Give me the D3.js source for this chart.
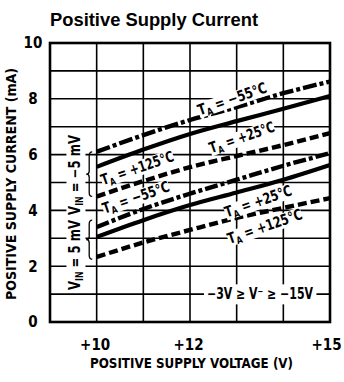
<!DOCTYPE html>
<html>
<head>
<meta charset="utf-8">
<script src="https://cdn.jsdelivr.net/npm/d3@7"></script>
<style>
  body { margin: 0; background: #fff; }
  svg { display: block; }
  text { font-family: "DejaVu Sans Condensed", "DejaVu Sans", sans-serif; font-stretch: condensed; font-weight: bold; fill: #000; }
</style>
</head>
<body>
<div id="chart"></div>
<script>
var canvasWidth = 344;
var canvasHeight = 382;

// supply voltage (V) where the curves are read
var supplyV = [10, 11, 12, 13, 14, 15];
// V_IN = -5 mV group (mA)
var curNeg55 = [6.1, 6.7, 7.24, 7.7, 8.2, 8.62];
var curNeg25 = [5.56, 6.18, 6.74, 7.2, 7.64, 8.1];
var curNeg125 = [4.5, 5.05, 5.55, 5.95, 6.34, 6.77];
// V_IN = 5 mV group (mA)
var curPos55 = [3.4, 4.05, 4.6, 5.1, 5.6, 6.05];
var curPos25 = [3.05, 3.65, 4.19, 4.64, 5.1, 5.63];
var curPos125 = [2.33, 2.85, 3.3, 3.73, 4.09, 4.44];

var yTicks = [0, 2, 4, 6, 8, 10];
var xTicks = [10, 12, 15];
var tempLabels = ["\u221255\u00B0C", "+25\u00B0C", "+125\u00B0C"];

var svg = d3.select("#chart")
    .append("svg")
    .attr("width", canvasWidth)
    .attr("height", canvasHeight);

var xScale = d3.scaleLinear().domain([9, 15]).range([50, 330]);
var yScale = d3.scaleLinear().domain([0, 10]).range([322, 43]);

/* title */
svg.append("text")
    .attr("x", 50)
    .attr("y", 26)
    .style("font-family", "'Liberation Sans', Arial, sans-serif")
    .style("font-stretch", "normal")
    .style("font-size", "18px")
    .attr("textLength", 208)
    .attr("lengthAdjust", "spacingAndGlyphs")
    .text("Positive Supply Current");

/* grid */
var grid = svg.append("g");
grid.selectAll(".vg")
    .data(d3.range(10, 15))
    .join("line")
    .attr("x1", d => xScale(d)).attr("x2", d => xScale(d))
    .attr("y1", yScale(0)).attr("y2", yScale(10))
    .attr("stroke", "#000").attr("stroke-width", 1.6);
grid.selectAll(".hg")
    .data(d3.range(1, 10))
    .join("line")
    .attr("x1", xScale(9)).attr("x2", xScale(15))
    .attr("y1", d => yScale(d)).attr("y2", d => yScale(d))
    .attr("stroke", "#000").attr("stroke-width", 1.6);

/* axes (labels only) */
var yAxis = svg.append("g")
    .attr("transform", "translate(40,0)")
    .call(d3.axisLeft(yScale).tickValues(yTicks).tickSize(0).tickPadding(0));
yAxis.select(".domain").remove();
yAxis.selectAll("text")
    .attr("x", -7)
    .attr("text-anchor", "middle")
    .style("font-family", "'DejaVu Sans Condensed', 'DejaVu Sans', sans-serif")
    .style("font-stretch", "condensed")
    .style("font-weight", "bold")
    .style("font-size", "15px");

var xAxis = svg.append("g")
    .attr("transform", "translate(0,336)")
    .call(d3.axisBottom(xScale).tickValues(xTicks).tickSize(0).tickFormat(d => "+" + d));
xAxis.select(".domain").remove();
xAxis.selectAll("text")
    .attr("dy", "0.71em")
    .attr("dx", d => d == 15 ? -4 : -2)
    .style("font-family", "'DejaVu Sans Condensed', 'DejaVu Sans', sans-serif")
    .style("font-stretch", "condensed")
    .style("font-weight", "bold")
    .style("font-size", "15px");

svg.append("text")
    .attr("x", 90)
    .attr("y", 368)
    .style("font-size", "14px")
    .attr("textLength", 203)
    .attr("lengthAdjust", "spacingAndGlyphs")
    .text("POSITIVE SUPPLY VOLTAGE (V)");

svg.append("text")
    .attr("transform", "translate(16,300) rotate(-90)")
    .style("font-size", "14px")
    .attr("textLength", 232)
    .attr("lengthAdjust", "spacingAndGlyphs")
    .text("POSITIVE SUPPLY CURRENT (mA)");

/* curves */
var series = [
    { vals: curNeg55, dash: "14,3,4,3" },
    { vals: curNeg25, dash: null },
    { vals: curNeg125, dash: "9,4" },
    { vals: curPos55, dash: "13,3,4,3" },
    { vals: curPos25, dash: null },
    { vals: curPos125, dash: "9,4" }
];

var line = d3.line()
    .x(d => xScale(d[0]))
    .y(d => yScale(d[1]))
    .curve(d3.curveMonotoneX);

svg.append("g")
    .selectAll("path")
    .data(series)
    .join("path")
    .attr("fill", "none")
    .attr("stroke", "#000")
    .attr("stroke-width", d => d.dash ? 4.4 : 4.2)
    .attr("stroke-dasharray", d => d.dash)
    .attr("d", d => line(supplyV.map((v, i) => [v, d.vals[i]])));

/* labels with white knockout */
function knockout(g, pad) {
    var bb = g.select("text").node().getBBox();
    g.insert("rect", "text")
        .attr("x", bb.x - pad).attr("y", bb.y - pad + 2)
        .attr("width", bb.width + 2 * pad).attr("height", bb.height + 2 * pad - 4)
        .attr("fill", "#fff");
}

// label centres in data units (V, mA)
var labelPos = [
    { v: 12.9, c: 8.0, t: 0, len: 72 },
    { v: 13.11, c: 6.62, t: 1, len: 68 },
    { v: 10.87, c: 5.52, t: 2, len: 76 },
    { v: 10.84, c: 4.47, t: 0, len: 70 },
    { v: 13.46, c: 4.33, t: 1, len: 70 },
    { v: 13.6, c: 3.43, t: 2, len: 78 }
];

labelPos.forEach(function(p) {
    var g = svg.append("g")
        .attr("transform", "translate(" + xScale(p.v) + "," + yScale(p.c) + ") rotate(-19)");
    var t = g.append("text")
        .attr("text-anchor", "middle")
        .attr("dy", "0.35em")
        .attr("textLength", p.len)
        .attr("lengthAdjust", "spacingAndGlyphs")
        .style("font-size", "15px");
    t.append("tspan").text("T");
    t.append("tspan").attr("dy", 3).style("font-size", "10px").text("A");
    t.append("tspan").attr("dy", -3).text(" = " + tempLabels[p.t]);
    knockout(g, 0);
});

// V_IN labels in left column
var vinLabels = [
    { c: 5.27, txt: " = \u22125 mV", len: 80 },
    { c: 2.4, txt: " = 5 mV", len: 70 }
];
vinLabels.forEach(function(p) {
    var g = svg.append("g")
        .attr("transform", "translate(" + (xScale(9.54)) + "," + yScale(p.c) + ") rotate(-90)");
    var t = g.append("text")
        .attr("text-anchor", "middle")
        .attr("dy", "0.35em")
        .attr("textLength", p.len)
        .attr("lengthAdjust", "spacingAndGlyphs")
        .style("font-size", "15px");
    t.append("tspan").text("V");
    t.append("tspan").attr("dy", 3).style("font-size", "10px").text("IN");
    t.append("tspan").attr("dy", -3).text(p.txt);
    knockout(g, 2);
});

// braces grouping each set of curves
var braces = [[6.1, 4.5], [3.65, 2.25]];
svg.append("g")
    .selectAll("path")
    .data(braces)
    .join("path")
    .attr("fill", "none")
    .attr("stroke", "#000")
    .attr("stroke-width", 1.3)
    .attr("d", function(d) {
        var x0 = xScale(9.84), y0 = yScale(d[0]), y1 = yScale(d[1]), ym = (y0 + y1) / 2;
        return "M" + (x0 + 3) + "," + y0 + "Q" + x0 + "," + y0 + " " + x0 + "," + (y0 + 4) +
            "L" + x0 + "," + (ym - 3) + "Q" + x0 + "," + ym + " " + (x0 - 3) + "," + ym +
            "Q" + x0 + "," + ym + " " + x0 + "," + (ym + 3) +
            "L" + x0 + "," + (y1 - 4) + "Q" + x0 + "," + y1 + " " + (x0 + 3) + "," + y1;
    });

// supply range note
var ng = svg.append("g")
    .attr("transform", "translate(" + xScale(13.5) + "," + yScale(1) + ")");
ng.append("text")
    .attr("text-anchor", "middle")
    .attr("dy", "0.35em")
    .attr("textLength", 106)
    .attr("lengthAdjust", "spacingAndGlyphs")
    .style("font-size", "15px")
    .text("\u22123V \u2265 V\u207B \u2265 \u221215V");
knockout(ng, 3);

/* frame */
svg.append("rect")
    .attr("x", xScale(9)).attr("y", yScale(10))
    .attr("width", xScale(15) - xScale(9))
    .attr("height", yScale(0) - yScale(10))
    .attr("fill", "none")
    .attr("stroke", "#000")
    .attr("stroke-width", 2.6);
</script>
</body>
</html>
